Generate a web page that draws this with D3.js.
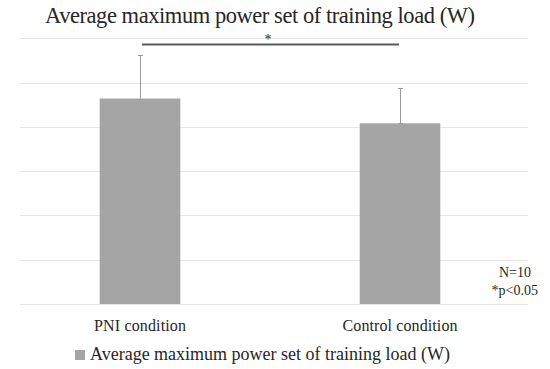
<!DOCTYPE html>
<html>
<head>
<meta charset="utf-8">
<script src="https://cdn.jsdelivr.net/npm/d3@7"></script>
<style>
  html, body { margin: 0; padding: 0; background: #fff; }
  svg { display: block; font-family: "Liberation Serif", "DejaVu Serif", serif; }
</style>
</head>
<body>
<svg id="chart" width="550" height="369"></svg>
<script>
const categories = ["PNI condition", "Control condition"];
const values = [464, 408];
const errors = [98, 80];
const yTicks = [0, 100, 200, 300, 400, 500, 600];
const titleText = "Average maximum power set of training load (W)";
const legendText = "Average maximum power set of training load (W)";
const notes = ["N=10", "*p<0.05"];

const svg = d3.select("#chart");

const y = d3.scaleLinear().domain([0, 600]).range([304, 38.3]);
const x = d3.scaleBand().domain(categories).range([10, 530]).paddingInner(0.69).paddingOuter(0.345);

// gridlines
svg.append("g").selectAll("line").data(yTicks).join("line")
  .attr("x1", 20).attr("x2", 528)
  .attr("y1", d => Math.round(y(d)) + 0.5).attr("y2", d => Math.round(y(d)) + 0.5)
  .attr("stroke", "#e6e6e6").attr("stroke-width", 1);

// bars
svg.append("g").selectAll("rect").data(categories).join("rect")
  .attr("x", d => x(d)).attr("width", x.bandwidth())
  .attr("y", (d, i) => y(values[i])).attr("height", (d, i) => y(0) - y(values[i]))
  .attr("fill", "#a5a5a5");

// error bars
const eg = svg.append("g").attr("stroke", "#9a9a9a").attr("stroke-width", 1);
categories.forEach((c, i) => {
  const cx = Math.round(x(c) + x.bandwidth() / 2) + 0.5;
  eg.append("line").attr("x1", cx).attr("x2", cx)
    .attr("y1", y(values[i])).attr("y2", y(values[i] + errors[i]));
  [values[i], values[i] + errors[i]].forEach(v => {
    eg.append("line").attr("x1", cx - 2.5).attr("x2", cx + 2.5)
      .attr("y1", Math.round(y(v)) + 0.5).attr("y2", Math.round(y(v)) + 0.5);
  });
});

// significance bracket
svg.append("line").attr("x1", 142).attr("x2", 399).attr("y1", 44.5).attr("y2", 44.5)
  .attr("stroke", "#595959").attr("stroke-width", 2);
svg.append("text").attr("x", 268).attr("y", 44).attr("text-anchor", "middle")
  .attr("font-size", 14).attr("fill", "#262626").text("*");

// title
svg.append("text").attr("x", 45).attr("y", 22.5)
  .attr("font-size", 22.5).attr("fill", "#262626")
  .attr("textLength", 430).text(titleText);

// category labels
svg.append("g").selectAll("text").data(categories).join("text")
  .attr("x", d => x(d) + x.bandwidth() / 2).attr("y", 331)
  .attr("text-anchor", "middle").attr("font-size", 16).attr("fill", "#262626")
  .attr("textLength", (d, i) => i === 0 ? 92 : 115)
  .text(d => d);

// notes
svg.append("text").attr("x", 531).attr("y", 276.5).attr("text-anchor", "end")
  .attr("font-size", 14).attr("fill", "#262626").text(notes[0]);
svg.append("text").attr("x", 538).attr("y", 294.5).attr("text-anchor", "end")
  .attr("font-size", 14).attr("fill", "#262626").text(notes[1]);

// legend
svg.append("rect").attr("x", 75).attr("y", 350).attr("width", 10).attr("height", 10).attr("fill", "#a5a5a5");
svg.append("text").attr("x", 90).attr("y", 360)
  .attr("font-size", 18).attr("fill", "#262626")
  .attr("textLength", 360).text(legendText);
</script>
</body>
</html>
